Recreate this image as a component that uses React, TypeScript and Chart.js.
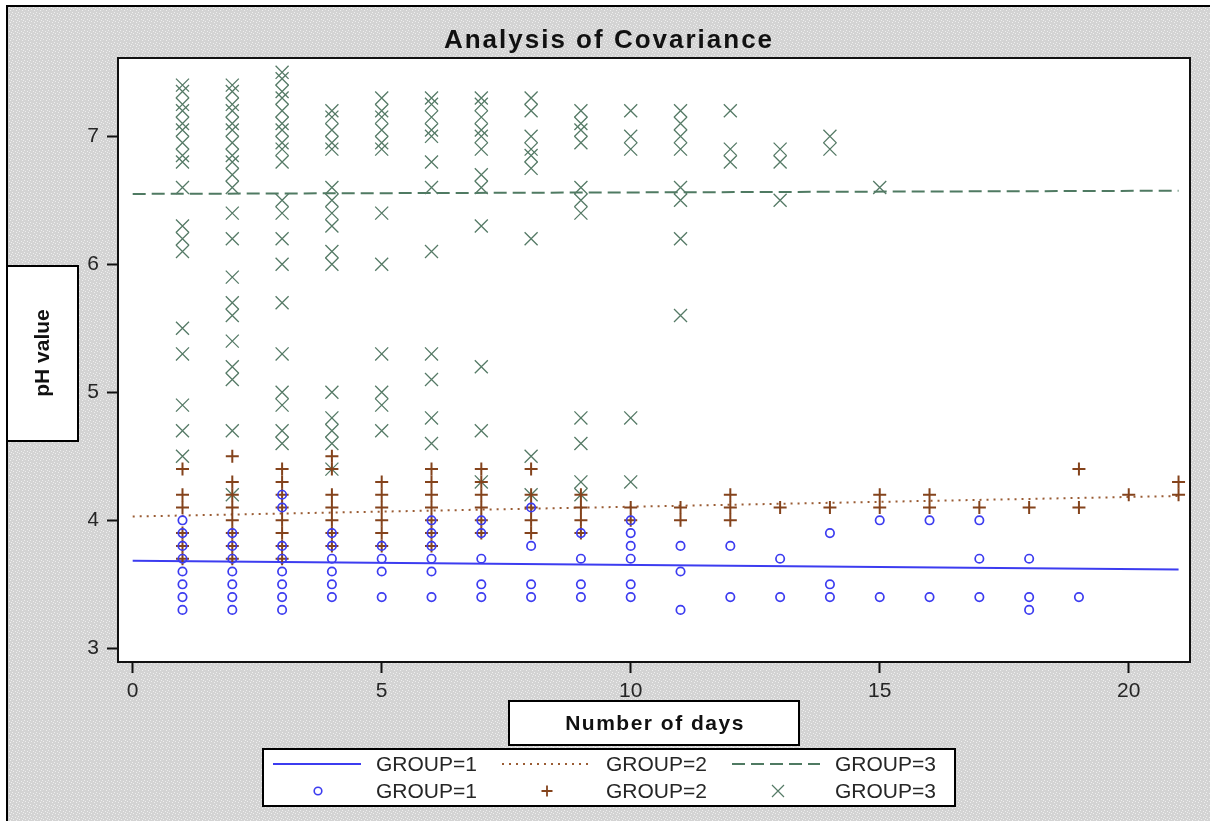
import React, { useEffect, useRef } from "react";
import { Chart, registerables } from "chart.js";

Chart.register(...registerables);

// Sampling days (x) and the pH readings taken on each day, per group.
const DAYS = [1, 2, 3, 4, 5, 6, 7, 8, 9, 10, 11, 12, 13, 14, 15, 16, 17, 18, 19, 20, 21];

const PH_GROUP1: number[][] = [
  [4.0, 3.9, 3.8, 3.7, 3.6, 3.5, 3.4, 3.3],
  [3.9, 3.8, 3.7, 3.6, 3.5, 3.4, 3.3],
  [4.2, 4.1, 3.8, 3.7, 3.6, 3.5, 3.4, 3.3],
  [3.9, 3.8, 3.7, 3.6, 3.5, 3.4],
  [3.8, 3.7, 3.6, 3.4],
  [4.0, 3.9, 3.8, 3.7, 3.6, 3.4],
  [4.0, 3.9, 3.7, 3.5, 3.4],
  [4.1, 3.8, 3.5, 3.4],
  [3.9, 3.7, 3.5, 3.4],
  [4.0, 3.9, 3.8, 3.7, 3.5, 3.4],
  [3.8, 3.6, 3.3],
  [3.8, 3.4],
  [3.7, 3.4],
  [3.9, 3.5, 3.4],
  [4.0, 3.4],
  [4.0, 3.4],
  [4.0, 3.7, 3.4],
  [3.7, 3.4, 3.3],
  [3.4],
  [],
  [],
];

const PH_GROUP2: number[][] = [
  [4.4, 4.2, 4.1, 3.9, 3.8, 3.7],
  [4.5, 4.3, 4.2, 4.1, 4.0, 3.9, 3.8, 3.7],
  [4.4, 4.3, 4.2, 4.1, 4.0, 3.9, 3.8, 3.7],
  [4.5, 4.4, 4.2, 4.1, 4.0, 3.9, 3.8],
  [4.3, 4.2, 4.1, 4.0, 3.9, 3.8],
  [4.4, 4.3, 4.2, 4.1, 4.0, 3.9, 3.8],
  [4.4, 4.3, 4.2, 4.1, 4.0, 3.9],
  [4.4, 4.2, 4.1, 4.0, 3.9],
  [4.2, 4.1, 4.0, 3.9],
  [4.1, 4.0],
  [4.1, 4.0],
  [4.2, 4.1, 4.0],
  [4.1],
  [4.1],
  [4.2, 4.1],
  [4.2, 4.1],
  [4.1],
  [4.1],
  [4.4, 4.1],
  [4.2],
  [4.3, 4.2],
];

const PH_GROUP3: number[][] = [
  [7.4, 7.35, 7.25, 7.2, 7.1, 7.05, 6.95, 6.85, 6.8, 6.6, 6.3, 6.2, 6.1, 5.5, 5.3, 4.9, 4.7, 4.5],
  [7.4, 7.35, 7.25, 7.2, 7.1, 7.05, 6.95, 6.85, 6.8, 6.7, 6.6, 6.4, 6.2, 5.9, 5.7, 5.6, 5.4, 5.2, 5.1, 4.7, 4.2],
  [7.5, 7.45, 7.35, 7.3, 7.2, 7.1, 7.05, 6.95, 6.9, 6.8, 6.5, 6.4, 6.2, 6.0, 5.7, 5.3, 5.0, 4.9, 4.7, 4.6],
  [7.2, 7.15, 7.05, 6.95, 6.9, 6.6, 6.5, 6.4, 6.3, 6.1, 6.0, 5.0, 4.8, 4.7, 4.6, 4.4],
  [7.3, 7.2, 7.15, 7.05, 6.95, 6.9, 6.4, 6.0, 5.3, 5.0, 4.9, 4.7],
  [7.3, 7.25, 7.15, 7.05, 7.0, 6.8, 6.6, 6.1, 5.3, 5.1, 4.8, 4.6],
  [7.3, 7.25, 7.15, 7.05, 7.0, 6.9, 6.7, 6.6, 6.3, 5.2, 4.7, 4.3],
  [7.3, 7.2, 7.0, 6.9, 6.85, 6.75, 6.2, 4.5, 4.2],
  [7.2, 7.1, 7.05, 6.95, 6.6, 6.5, 6.4, 4.8, 4.6, 4.3, 4.2],
  [7.2, 7.0, 6.9, 4.8, 4.3],
  [7.2, 7.1, 7.0, 6.9, 6.6, 6.5, 6.2, 5.6],
  [7.2, 6.9, 6.8],
  [6.9, 6.8, 6.5],
  [7.0, 6.9],
  [6.6],
  [],
  [],
  [],
  [],
  [],
  [],
];

// Fitted lines of the covariance model, evaluated at both ends of the day range.
const FIT_DAYS = [0, 21];
const FIT_GROUP1 = [3.685, 3.615];
const FIT_GROUP2 = [4.03, 4.19];
const FIT_GROUP3 = [6.55, 6.575];

const X_TICKS = [0, 5, 10, 15, 20];
const Y_TICKS = [3, 4, 5, 6, 7];

const TITLE = "Analysis of Covariance";
const X_TITLE = "Number of days";
const Y_TITLE = "pH value";
const GROUP_LABELS = ["GROUP=1", "GROUP=2", "GROUP=3"];

const FONT = '"Liberation Sans", Arial, Helvetica, sans-serif';
const BLUE = "#3c3cf0";
const BROWN = "#84431c";
const BROWN_LINE = "#9a5c34";
const GREEN = "#557a66";
const GREEN_LINE = "#4f7a62";
const TEXT = "#262626";

const DOTTED = [2, 5];
const DASHED = [13, 6];

const toPoints = (rows: number[][]) =>
  rows.flatMap((vals, i) => vals.map((v) => ({ x: DAYS[i], y: v })));

const toFit = (ys: number[]) => FIT_DAYS.map((d, i) => ({ x: d, y: ys[i] }));

// Stippled light-grey backdrop used around the plot.
function makeBackdrop(ctx: CanvasRenderingContext2D): CanvasPattern | string {
  const tile = document.createElement("canvas");
  tile.width = 6;
  tile.height = 6;
  const t = tile.getContext("2d");
  if (!t) return "#d9d9d9";
  t.fillStyle = "#d3d3d3";
  t.fillRect(0, 0, 6, 6);
  t.fillStyle = "#eeeeee";
  const dots = [
    [0, 0],
    [3, 1],
    [1, 3],
    [4, 4],
    [5, 2],
  ];
  dots.forEach(([x, y]) => t.fillRect(x, y, 1, 1));
  return ctx.createPattern(tile, "repeat") || "#d9d9d9";
}

function drawCircleMark(ctx: CanvasRenderingContext2D, x: number, y: number) {
  ctx.save();
  ctx.strokeStyle = BLUE;
  ctx.lineWidth = 1.6;
  ctx.beginPath();
  ctx.arc(x, y, 3.8, 0, Math.PI * 2);
  ctx.stroke();
  ctx.restore();
}

function drawPlusMark(ctx: CanvasRenderingContext2D, x: number, y: number) {
  ctx.save();
  ctx.strokeStyle = BROWN;
  ctx.lineWidth = 1.8;
  ctx.beginPath();
  ctx.moveTo(x - 5.5, y);
  ctx.lineTo(x + 5.5, y);
  ctx.moveTo(x, y - 5.5);
  ctx.lineTo(x, y + 5.5);
  ctx.stroke();
  ctx.restore();
}

function drawXMark(ctx: CanvasRenderingContext2D, x: number, y: number) {
  ctx.save();
  ctx.strokeStyle = GREEN;
  ctx.lineWidth = 1.2;
  ctx.beginPath();
  ctx.moveTo(x - 6, y - 6);
  ctx.lineTo(x + 6, y + 6);
  ctx.moveTo(x + 6, y - 6);
  ctx.lineTo(x - 6, y + 6);
  ctx.stroke();
  ctx.restore();
}

function labelBox(ctx: CanvasRenderingContext2D, x: number, y: number, w: number, h: number) {
  ctx.save();
  ctx.fillStyle = "#ffffff";
  ctx.fillRect(x, y, w, h);
  ctx.strokeStyle = "#000000";
  ctx.lineWidth = 2;
  ctx.strokeRect(x, y, w, h);
  ctx.restore();
}

const framePlugin = {
  id: "sasFrame",
  beforeDraw(chart: Chart) {
    const ctx = chart.ctx;
    const { width, height } = chart;
    const area = chart.chartArea;
    ctx.save();
    ctx.fillStyle = "#ffffff";
    ctx.fillRect(0, 0, width, height);
    ctx.fillStyle = makeBackdrop(ctx);
    ctx.fillRect(7, 6, 1203, height - 6);
    ctx.fillStyle = "#000000";
    ctx.fillRect(6, 5, 2, height - 5);
    ctx.fillRect(6, 5, 1204, 2);
    ctx.fillStyle = "#ffffff";
    ctx.fillRect(area.left, area.top, area.right - area.left, area.bottom - area.top);
    ctx.restore();
  },
  afterDraw(chart: Chart) {
    const ctx = chart.ctx;
    const area = chart.chartArea;
    ctx.save();

    // plot frame
    ctx.strokeStyle = "#111111";
    ctx.lineWidth = 2;
    ctx.strokeRect(area.left, area.top, area.right - area.left, area.bottom - area.top);

    // title
    ctx.fillStyle = "#111111";
    ctx.font = `bold 26px ${FONT}`;
    (ctx as any).letterSpacing = "2px";
    ctx.textAlign = "center";
    ctx.textBaseline = "alphabetic";
    ctx.fillText(TITLE, 609, 48);

    // x-axis title box
    labelBox(ctx, 509, 701, 290, 44);
    ctx.fillStyle = "#111111";
    ctx.font = `bold 21px ${FONT}`;
    (ctx as any).letterSpacing = "1.5px";
    ctx.textBaseline = "middle";
    ctx.fillText(X_TITLE, 655, 724);

    // y-axis title box
    labelBox(ctx, 7, 266, 71, 175);
    ctx.save();
    ctx.translate(43, 353);
    ctx.rotate(-Math.PI / 2);
    (ctx as any).letterSpacing = "0px";
    ctx.fillText(Y_TITLE, 0, 0);
    ctx.restore();

    // legend
    labelBox(ctx, 263, 749, 692, 57);
    const rowLine = 764;
    const rowMark = 791;
    const sampleX = [273, 502, 732];
    const textX = [376, 606, 835];
    const lineColors = [BLUE, BROWN_LINE, GREEN_LINE];
    const dashes = [[], DOTTED, DASHED];
    for (let i = 0; i < 3; i++) {
      ctx.save();
      ctx.strokeStyle = lineColors[i];
      ctx.lineWidth = 2;
      ctx.setLineDash(dashes[i]);
      ctx.beginPath();
      ctx.moveTo(sampleX[i], rowLine);
      ctx.lineTo(sampleX[i] + 88, rowLine);
      ctx.stroke();
      ctx.restore();
    }
    drawCircleMark(ctx, 318, rowMark);
    drawPlusMark(ctx, 547, rowMark);
    drawXMark(ctx, 778, rowMark);

    ctx.fillStyle = TEXT;
    ctx.font = `21px ${FONT}`;
    (ctx as any).letterSpacing = "0px";
    ctx.textAlign = "left";
    ctx.textBaseline = "middle";
    for (let i = 0; i < 3; i++) {
      ctx.fillText(GROUP_LABELS[i], textX[i], rowLine + 1);
      ctx.fillText(GROUP_LABELS[i], textX[i], rowMark + 1);
    }
    ctx.restore();
  },
};

export default function App() {
  const canvasRef = useRef<HTMLCanvasElement | null>(null);

  useEffect(() => {
    document.body.style.margin = "0";
    const canvas = canvasRef.current;
    if (!canvas) return;

    const tickFont = { family: FONT, size: 21 };
    const gridCfg = {
      display: true,
      drawOnChartArea: false,
      drawTicks: true,
      tickLength: 11,
      tickWidth: 2,
      tickColor: "#111111",
    };

    const chart = new Chart(canvas, {
      type: "scatter",
      data: {
        datasets: [
          {
            label: "GROUP=1",
            data: toPoints(PH_GROUP1),
            pointStyle: "circle",
            pointRadius: 4.2,
            pointBorderWidth: 1.7,
            borderColor: BLUE,
            backgroundColor: "rgba(0,0,0,0)",
          },
          {
            label: "GROUP=2",
            data: toPoints(PH_GROUP2),
            pointStyle: "cross",
            pointRadius: 6.5,
            pointBorderWidth: 2,
            borderColor: BROWN,
            backgroundColor: BROWN,
          },
          {
            label: "GROUP=3",
            data: toPoints(PH_GROUP3),
            pointStyle: "crossRot",
            pointRadius: 9.2,
            pointBorderWidth: 1.3,
            borderColor: GREEN,
            backgroundColor: GREEN,
          },
          {
            label: "GROUP=1 fit",
            data: toFit(FIT_GROUP1),
            showLine: true,
            pointRadius: 0,
            borderColor: BLUE,
            borderWidth: 2,
          },
          {
            label: "GROUP=2 fit",
            data: toFit(FIT_GROUP2),
            showLine: true,
            pointRadius: 0,
            borderColor: BROWN_LINE,
            borderWidth: 2,
            borderDash: DOTTED,
          },
          {
            label: "GROUP=3 fit",
            data: toFit(FIT_GROUP3),
            showLine: true,
            pointRadius: 0,
            borderColor: GREEN_LINE,
            borderWidth: 2,
            borderDash: DASHED,
          },
        ],
      },
      options: {
        animation: false,
        responsive: false,
        devicePixelRatio: 1,
        events: [],
        layout: { padding: { left: 88, top: 58, right: 22, bottom: 109 } },
        plugins: {
          legend: { display: false },
          title: { display: false },
          tooltip: { enabled: false },
        },
        scales: {
          x: {
            type: "linear",
            min: -0.295,
            max: 21.23,
            afterFit: (s: any) => {
              s.height = 50;
            },
            afterBuildTicks: (s: any) => {
              s.ticks = X_TICKS.map((v) => ({ value: v }));
            },
            grid: gridCfg,
            border: { display: false },
            ticks: { font: tickFont, color: TEXT, padding: 6, maxRotation: 0 },
          },
          y: {
            type: "linear",
            min: 2.893,
            max: 7.612,
            afterFit: (s: any) => {
              s.width = 30;
            },
            afterBuildTicks: (s: any) => {
              s.ticks = Y_TICKS.map((v) => ({ value: v }));
            },
            grid: gridCfg,
            border: { display: false },
            ticks: { font: tickFont, color: TEXT, padding: 8 },
          },
        },
      },
      plugins: [framePlugin],
    } as any);

    return () => chart.destroy();
  }, []);

  return (
    <canvas
      ref={canvasRef}
      width={1212}
      height={821}
      style={{ display: "block", width: 1212, height: 821 }}
    />
  );
}
